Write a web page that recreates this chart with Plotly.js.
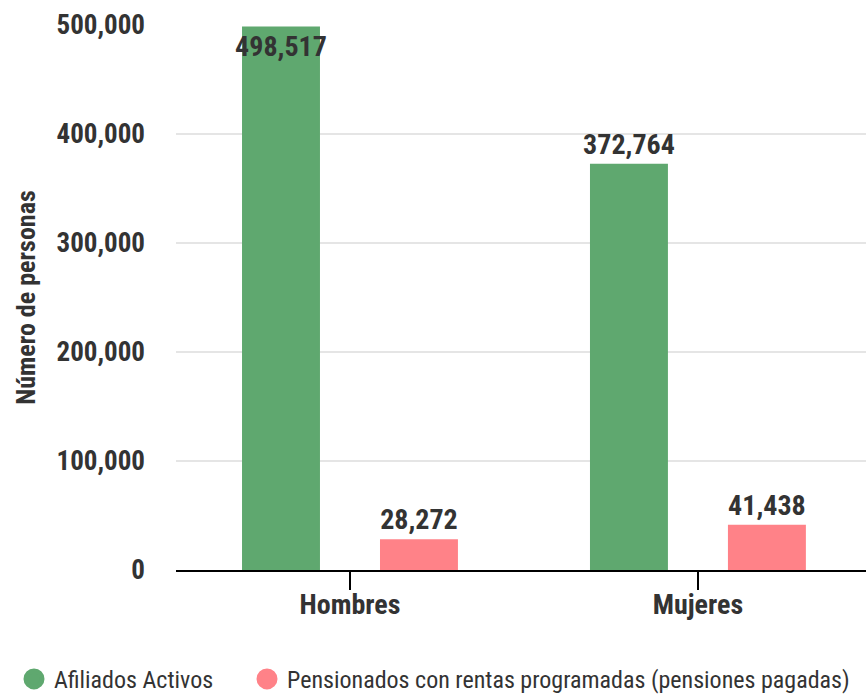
<!DOCTYPE html>
<html>
<head>
<meta charset="utf-8">
<script src="https://cdn.plot.ly/plotly-3.0.1.min.js"></script>
<style>html,body{margin:0;padding:0;background:#fff;}#chart{width:866px;height:696px;}</style>
</head>
<body>
<div id="chart"></div>
<script>
const categories = ["Hombres", "Mujeres"];
const seriesNames = ["Afiliados Activos", "Pensionados con rentas programadas (pensiones pagadas)"];
const afiliadosActivos = [498517, 372764];
const pensionados = [28272, 41438];
const yTickValues = [0, 100000, 200000, 300000, 400000, 500000];

const FONT = '"Roboto Condensed", "Liberation Sans Narrow", "DejaVu Sans Condensed", Roboto, sans-serif';
const GREEN = 'rgb(95,168,111)';
const PINK = 'rgb(255,130,136)';
const TXT = '#333333';
const LBL = {family: FONT, size: 28, color: TXT, weight: 'bold'};

const traces = [
  {
    type: 'bar', name: seriesNames[0], x: categories, y: afiliadosActivos,
    marker: {color: GREEN}, showlegend: false,
    texttemplate: '%{y:,}', textposition: ['inside', 'outside'], textangle: 0,
    insidetextanchor: 'end', constraintext: 'none', cliponaxis: false,
    textfont: LBL, insidetextfont: LBL, outsidetextfont: LBL,
    hoverinfo: 'none'
  },
  {
    type: 'bar', name: seriesNames[1], x: categories, y: pensionados,
    marker: {color: PINK}, showlegend: false,
    texttemplate: '%{y:,}', textposition: 'outside', textangle: 0,
    constraintext: 'none', cliponaxis: false,
    textfont: LBL, outsidetextfont: LBL,
    hoverinfo: 'none'
  },
  {
    type: 'scatter', mode: 'markers', name: seriesNames[0], x: [null], y: [null],
    marker: {color: GREEN, size: 16, symbol: 'circle', line: {color: GREEN, width: 5}},
    showlegend: true, legend: 'legend'
  },
  {
    type: 'scatter', mode: 'markers', name: seriesNames[1], x: [null], y: [null],
    marker: {color: PINK, size: 16, symbol: 'circle', line: {color: PINK, width: 5}},
    showlegend: true, legend: 'legend2'
  }
];

const legendBase = {
  orientation: 'h', xref: 'container', yref: 'container',
  y: 0.024, xanchor: 'left', yanchor: 'middle',
  font: {family: FONT, size: 24, color: TXT},
  itemsizing: 'trace', tracegroupgap: 0, itemwidth: 30,
  bgcolor: 'rgba(0,0,0,0)'
};

const layout = {
  width: 866, height: 696,
  margin: {l: 176, r: 0, t: 25, b: 126},
  paper_bgcolor: '#ffffff', plot_bgcolor: '#ffffff',
  font: {family: FONT, color: TXT},
  barmode: 'group', bargap: 0.207, bargroupgap: 0.435,
  xaxis: {
    type: 'category', range: [-0.5, 1.483],
    showgrid: false, zeroline: false,
    showline: true, linecolor: '#000000', linewidth: 2,
    ticks: 'outside', ticklen: 18, tickwidth: 1.5, tickcolor: '#000000',
    ticklabelstandoff: -10,
    tickfont: {family: FONT, size: 28, color: TXT, weight: 'bold'},
    fixedrange: true
  },
  yaxis: {
    range: [0, 500000], tickvals: yTickValues, tickformat: ',',
    showgrid: true, gridcolor: '#e5e5e5', gridwidth: 2,
    zeroline: false, showline: false, ticks: '',
    ticklabelstandoff: 30,
    tickfont: {family: FONT, size: 27, color: TXT, weight: 'bold'},
    title: {text: 'Número de personas', standoff: 13,
            font: {family: FONT, size: 26, color: TXT, weight: 'bold'}},
    fixedrange: true
  },
  showlegend: true,
  legend: Object.assign({}, legendBase, {x: 14 / 866}),
  legend2: Object.assign({}, legendBase, {x: 247 / 866})
};

Plotly.newPlot('chart', traces, layout, {displayModeBar: false, staticPlot: true});
</script>
</body>
</html>
